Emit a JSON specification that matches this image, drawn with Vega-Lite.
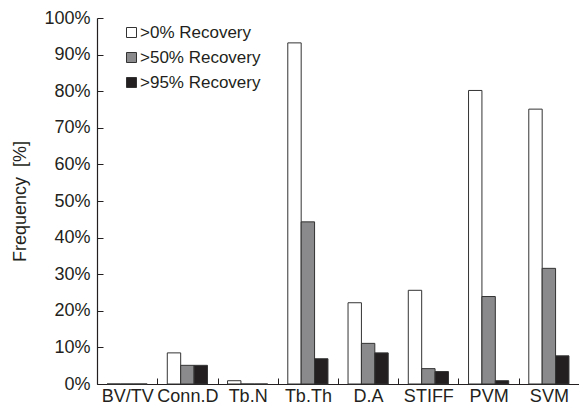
{
  "$schema": "https://vega.github.io/schema/vega-lite/v6.json",
  "width": 482,
  "height": 366,
  "autosize": {"type": "none"},
  "padding": {"left": 97, "top": 18, "right": 0, "bottom": 26},
  "background": "white",
  "config": {
    "view": {"stroke": null},
    "font": "Liberation Sans",
    "axis": {"domainColor": "#231f20", "tickColor": "#231f20", "labelColor": "#231f20", "titleColor": "#231f20", "grid": false}
  },
  "data": {
    "values": [
      {"param": "BV/TV", "series": ">0% Recovery", "value": 0},
      {"param": "BV/TV", "series": ">50% Recovery", "value": 0},
      {"param": "BV/TV", "series": ">95% Recovery", "value": 0},
      {"param": "Conn.D", "series": ">0% Recovery", "value": 8.5},
      {"param": "Conn.D", "series": ">50% Recovery", "value": 5.1},
      {"param": "Conn.D", "series": ">95% Recovery", "value": 5.1},
      {"param": "Tb.N", "series": ">0% Recovery", "value": 0.9},
      {"param": "Tb.N", "series": ">50% Recovery", "value": 0},
      {"param": "Tb.N", "series": ">95% Recovery", "value": 0},
      {"param": "Tb.Th", "series": ">0% Recovery", "value": 93.2},
      {"param": "Tb.Th", "series": ">50% Recovery", "value": 44.3},
      {"param": "Tb.Th", "series": ">95% Recovery", "value": 6.9},
      {"param": "D.A", "series": ">0% Recovery", "value": 22.2},
      {"param": "D.A", "series": ">50% Recovery", "value": 11.1},
      {"param": "D.A", "series": ">95% Recovery", "value": 8.5},
      {"param": "STIFF", "series": ">0% Recovery", "value": 25.6},
      {"param": "STIFF", "series": ">50% Recovery", "value": 4.2},
      {"param": "STIFF", "series": ">95% Recovery", "value": 3.4},
      {"param": "PVM", "series": ">0% Recovery", "value": 80.2},
      {"param": "PVM", "series": ">50% Recovery", "value": 23.9},
      {"param": "PVM", "series": ">95% Recovery", "value": 0.9},
      {"param": "SVM", "series": ">0% Recovery", "value": 75.1},
      {"param": "SVM", "series": ">50% Recovery", "value": 31.6},
      {"param": "SVM", "series": ">95% Recovery", "value": 7.7}
    ]
  },
  "mark": {"type": "bar", "stroke": "#333333", "strokeWidth": 1},
  "encoding": {
    "x": {
      "field": "param",
      "type": "nominal",
      "sort": ["BV/TV", "Conn.D", "Tb.N", "Tb.Th", "D.A", "STIFF", "PVM", "SVM"],
      "scale": {"paddingInner": 0.3333, "paddingOuter": 0.16667},
      "axis": {
        "title": null,
        "labelAngle": 0,
        "labelFontSize": 18,
        "labelPadding": 9,
        "tickSize": -6,
        "tickOffset": -30.125,
        "labelOffset": 30.125,
        "domainWidth": 1.2
      }
    },
    "xOffset": {
      "field": "series",
      "type": "nominal",
      "sort": [">0% Recovery", ">50% Recovery", ">95% Recovery"],
      "scale": {"paddingInner": 0, "paddingOuter": 0}
    },
    "y": {
      "field": "value",
      "type": "quantitative",
      "scale": {"domain": [0, 100], "nice": false},
      "axis": {
        "title": "Frequency\u00a0\u00a0[%]",
        "titleFontSize": 18,
        "titleFontWeight": "normal",
        "titlePadding": 14,
        "values": [0, 10, 20, 30, 40, 50, 60, 70, 80, 90, 100],
        "labelExpr": "datum.value + '%'",
        "labelFontSize": 18,
        "labelPadding": 13,
        "tickSize": -6,
        "domainWidth": 1.2
      }
    },
    "fill": {
      "field": "series",
      "type": "nominal",
      "sort": [">0% Recovery", ">50% Recovery", ">95% Recovery"],
      "scale": {"range": ["#ffffff", "#8a8a8c", "#231f20"]},
      "legend": {
        "title": null,
        "orient": "none",
        "legendX": 26,
        "legendY": 6,
        "padding": 0,
        "symbolType": "square",
        "symbolSize": 100,
        "symbolStrokeColor": "#333333",
        "symbolStrokeWidth": 1,
        "labelFontSize": 17,
        "labelColor": "#231f20",
        "labelOffset": 0,
        "rowPadding": 7
      }
    }
  }
}
